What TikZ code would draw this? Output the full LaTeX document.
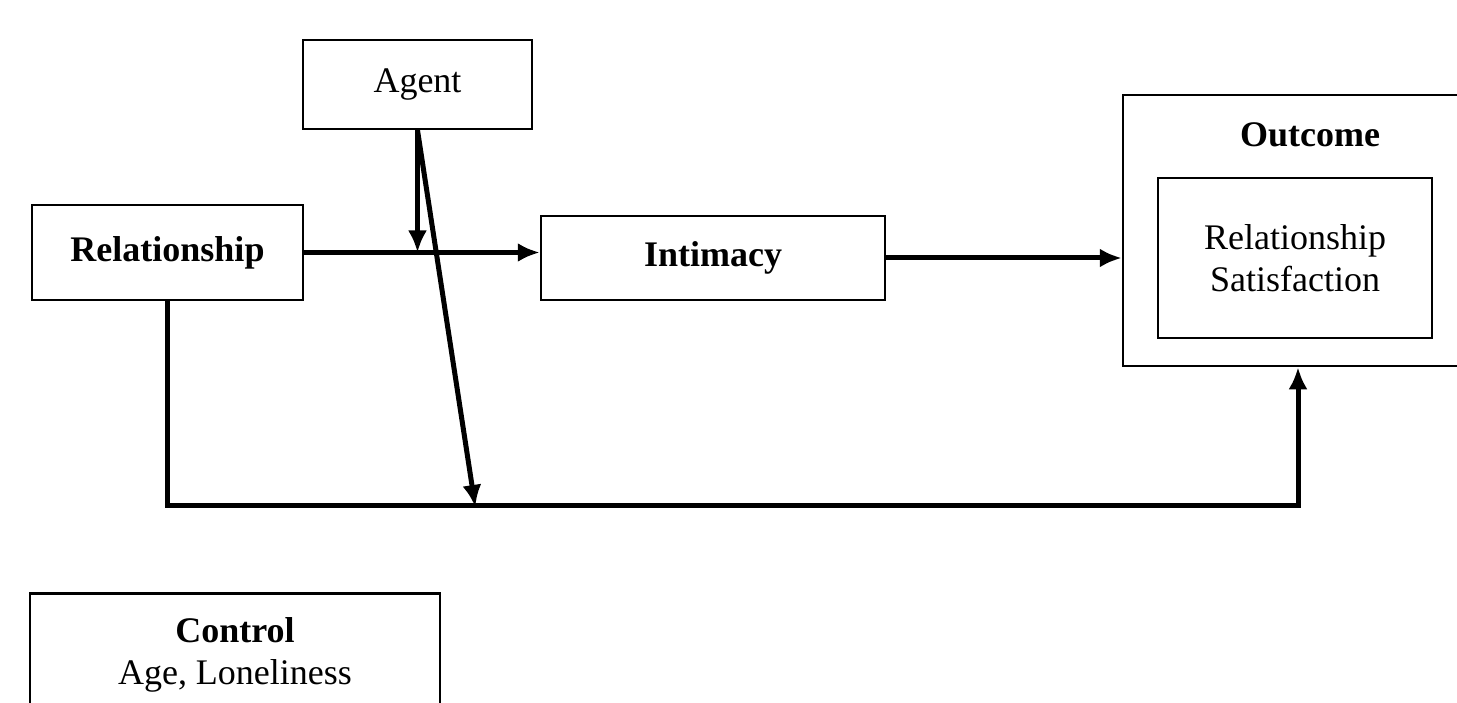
\documentclass[tikz,border=0pt]{standalone}
\usepackage{fontspec}
\setmainfont{Liberation Serif}
\usepackage{tikz}
\usetikzlibrary{arrows.meta}

\begin{document}
\begin{tikzpicture}[x=1pt, y=-1pt, font=\fontsize{36}{42}\selectfont,
  Box/.style={draw, line width=2.5pt, align=center, inner sep=0pt},
  Link/.style={->, >={Latex[length=22pt, width=19pt]}, line width=5pt}]

\useasboundingbox (0,0) rectangle (1457,703);
\clip (0,0) rectangle (1457,703);

\node [Box, minimum width=229, minimum height=89] (agent) at (417.5, 84.5) {Agent};
\node [Box, minimum width=271, minimum height=95] (relationship) at (167.5, 252.5) {\textbf{Relationship}};
\node [Box, minimum width=344, minimum height=84] (intimacy) at (713, 258) {\textbf{Intimacy}};

% outcome box runs past the right edge
\node [Box, minimum width=350, minimum height=271] (outcome) at (1298, 230.5) {};
\node (outcomelabel) at (1310, 135) {\textbf{Outcome}};
\node [Box, minimum width=274, minimum height=160] (satisfaction) at (1295, 258) {Relationship\\Satisfaction};

\node [Box, minimum width=410, minimum height=150, anchor=north] (control) at (235, 592) {};
\node [align=center] (controltext) at (235, 655) {\textbf{Control}\\Age, Loneliness};

\coordinate (hit) at (475, 505);

\draw [Link] (relationship.east) -- (relationship.east -| intimacy.west);
\draw [Link] (intimacy.east) -- (intimacy.east -| outcome.west);
\draw [Link] (agent.south) -- (agent.south |- relationship.east);
\draw [Link, shorten >=-2pt] (agent.south) -- (hit);
\draw [Link] (relationship.south) -- (relationship.south |- hit) -| (outcome.south);
\end{tikzpicture}
\end{document}
